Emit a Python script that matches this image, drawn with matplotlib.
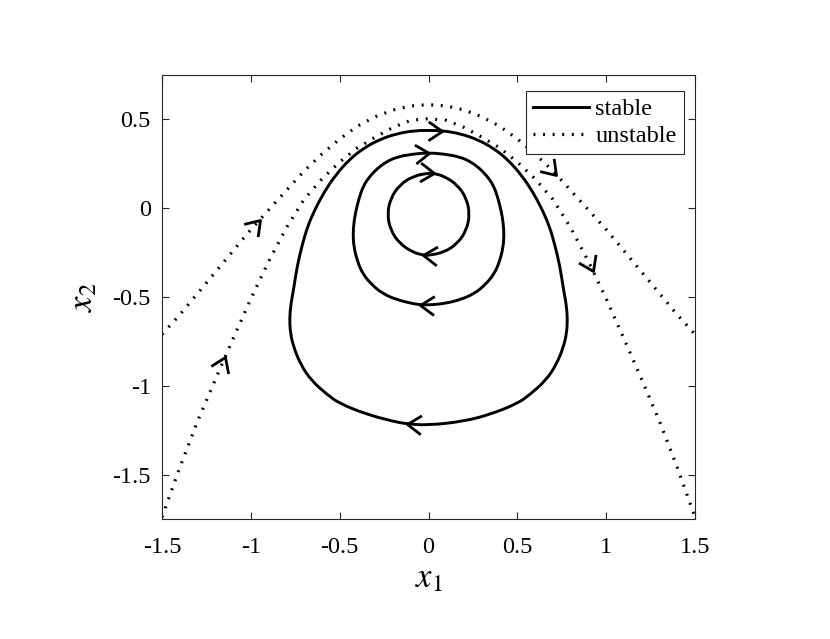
import matplotlib
matplotlib.use("Agg")
import matplotlib.pyplot as plt
import numpy as np
from matplotlib.path import Path
from matplotlib.patches import PathPatch
from matplotlib.lines import Line2D
from matplotlib.markers import MarkerStyle

# closed orbits (stable), traced clockwise
outer_x = [0, 0.075, 0.18, 0.28, 0.37, 0.45, 0.525, 0.585, 0.638, 0.68, 0.712, 0.74, 0.76, 0.775,
           0.782, 0.778, 0.76, 0.72, 0.66, 0.57, 0.5, 0.35, 0.2, 0.0, -0.12, -0.2, -0.35, -0.5, -0.57,
           -0.66, -0.72, -0.76, -0.778, -0.782, -0.775, -0.76, -0.74, -0.712, -0.68, -0.638, -0.585,
           -0.525, -0.45, -0.37, -0.28, -0.18, -0.075]
outer_y = [0.438, 0.437, 0.42, 0.385, 0.335, 0.27, 0.184, 0.095, -0.004, -0.10, -0.21, -0.33, -0.46,
           -0.54, -0.62, -0.70, -0.78, -0.88, -0.97, -1.05, -1.10, -1.16, -1.20, -1.222, -1.215, -1.20,
           -1.16, -1.10, -1.05, -0.97, -0.88, -0.78, -0.70, -0.62, -0.54, -0.46, -0.33, -0.21, -0.10,
           -0.004, 0.095, 0.184, 0.27, 0.335, 0.385, 0.42, 0.437]

mid_x = [-0.09, 0, 0.09, 0.18, 0.24, 0.29, 0.33, 0.366, 0.39, 0.41, 0.42, 0.425, 0.42, 0.40, 0.37, 0.32,
         0.26, 0.18, 0.09, 0, -0.05, -0.09, -0.18, -0.26, -0.32, -0.37, -0.40, -0.42, -0.425, -0.42,
         -0.41, -0.39, -0.366, -0.33, -0.29, -0.24, -0.18]
mid_y = [0.305, 0.312, 0.305, 0.288, 0.26, 0.222, 0.18, 0.128, 0.06, -0.02, -0.08, -0.15, -0.22, -0.30,
         -0.37, -0.43, -0.48, -0.515, -0.537, -0.545, -0.543, -0.537, -0.515, -0.48, -0.43, -0.37,
         -0.30, -0.22, -0.15, -0.08, -0.02, 0.06, 0.128, 0.18, 0.222, 0.26, 0.288]

inner_x = [0, 0.03, 0.089, 0.164, 0.214, 0.232, 0.214, 0.164, 0.089, 0, -0.03, -0.089, -0.164, -0.214,
           -0.232, -0.214, -0.164, -0.089]
inner_y = [0.198, 0.196, 0.180, 0.130, 0.055, -0.034, -0.123, -0.198, -0.248, -0.266, -0.264, -0.248,
           -0.198, -0.123, -0.034, 0.055, 0.130, 0.180]

# unstable curves
sep_x = np.round(np.arange(-1.5, 1.51, 0.1), 2)
upper_y = [-0.71, -0.60, -0.48, -0.36, -0.24, -0.12, -0.01, 0.10, 0.21, 0.305, 0.39, 0.462, 0.515, 0.553,
           0.576, 0.583, 0.576, 0.553, 0.515, 0.462, 0.39, 0.305, 0.21, 0.10, -0.01, -0.12, -0.24, -0.36,
           -0.48, -0.60, -0.71]
lower_y = [-1.74, -1.46, -1.20, -0.965, -0.735, -0.51, -0.30, -0.11, 0.05, 0.165, 0.26, 0.34, 0.40, 0.455,
           0.495, 0.504, 0.495, 0.455, 0.40, 0.34, 0.26, 0.165, 0.05, -0.11, -0.30, -0.51, -0.735, -0.965,
           -1.20, -1.46, -1.74]

# arrow places: curve index of the tip for the orbits, tip x for the unstable curves
outer_arrows = [1, 24]
mid_arrows = [1, 20]
inner_arrows = [1, 10]
upper_arrows = [-0.95, 0.72]
lower_arrows = [-1.145, 0.925]

plt.rcParams['font.family'] = ['Liberation Serif']
plt.rcParams['mathtext.fontset'] = 'stix'

fig = plt.figure(figsize=(8.3, 6.39), dpi=100)
ax = fig.add_axes([0.1952, 0.1878, 0.6422, 0.6948])
ax.set_xlim(-1.5, 1.5)
ax.set_ylim(-1.75, 0.75)

lw = 2.1
dot = (0, (0.6, 2.4))


def closed_curve(xs, ys):
    # smooth closed outline with the points as control points
    p = np.column_stack([xs, ys])
    mids = (p + np.roll(p, -1, axis=0)) / 2
    verts = [mids[-1]]
    codes = [Path.MOVETO]
    for i in range(len(p)):
        verts += [p[i], mids[i]]
        codes += [Path.CURVE3, Path.CURVE3]
    ax.add_patch(PathPatch(Path(verts, codes), fill=False, edgecolor='k', lw=lw,
                           capstyle='round', joinstyle='round'))


closed_curve(outer_x, outer_y)
closed_curve(mid_x, mid_y)
closed_curve(inner_x, inner_y)
ax.plot(sep_x, upper_y, color='k', ls=dot, lw=2.3)
ax.plot(sep_x, lower_y, color='k', ls=dot, lw=2.3)

chevron = np.array([[-1.0, 0.68], [0.0, 0.0], [-1.0, -0.68]])


def arrow(p0, p1):
    # open arrow head at p1, pointing from p0 towards p1
    a, b = ax.transData.transform([p0, p1])
    ang = np.arctan2(b[1] - a[1], b[0] - a[0])
    rot = np.array([[np.cos(ang), -np.sin(ang)], [np.sin(ang), np.cos(ang)]])
    verts = chevron @ rot.T
    size = 20 * np.abs(verts).max()  # markers get normalised, keep heads the same size
    m = MarkerStyle(Path(verts, [Path.MOVETO, Path.LINETO, Path.LINETO]), joinstyle='miter')
    ax.plot([p1[0]], [p1[1]], marker=m, ms=size, mew=2.0, mec='k', mfc='none', ls='none')


for xs, ys, idx in [(outer_x, outer_y, outer_arrows), (mid_x, mid_y, mid_arrows),
                    (inner_x, inner_y, inner_arrows)]:
    for i in idx:
        arrow((xs[i - 1], ys[i - 1]), (xs[i], ys[i]))

for ys, tips in [(upper_y, upper_arrows), (lower_y, lower_arrows)]:
    for t in tips:
        arrow((t - 0.02, np.interp(t - 0.02, sep_x, ys)), (t, np.interp(t, sep_x, ys)))

ax.set_xticks([-1.5, -1, -0.5, 0, 0.5, 1, 1.5])
ax.set_xticklabels(['-1.5', '-1', '-0.5', '0', '0.5', '1', '1.5'])
ax.set_yticks([-1.5, -1, -0.5, 0, 0.5])
ax.set_yticklabels(['-1.5', '-1', '-0.5', '0', '0.5'])
ax.tick_params(direction='in', top=True, right=True, length=5, width=0.8,
               labelsize=17.5, color='0.15')
ax.tick_params(axis='x', pad=13)
ax.tick_params(axis='y', pad=8)
for s in ax.spines.values():
    s.set_color('0.15')
    s.set_linewidth(0.8)

ax.set_xlabel('$x_1$', fontsize=25, labelpad=3)
ax.set_ylabel('$x_2$', fontsize=25, labelpad=9)

handles = [Line2D([], [], color='k', lw=lw),
           Line2D([], [], color='k', ls=dot, lw=2.3)]
leg = ax.legend(handles, ['stable', 'unstable'], loc='upper right',
                bbox_to_anchor=(0.9794, 0.964), fontsize=17.5,
                handlelength=2.3, handletextpad=0.25, borderaxespad=0, borderpad=0.3,
                labelspacing=0.2, fancybox=False, framealpha=1, edgecolor='0.15')
leg.get_frame().set_linewidth(0.8)

fig.savefig('out.png', dpi=100)
